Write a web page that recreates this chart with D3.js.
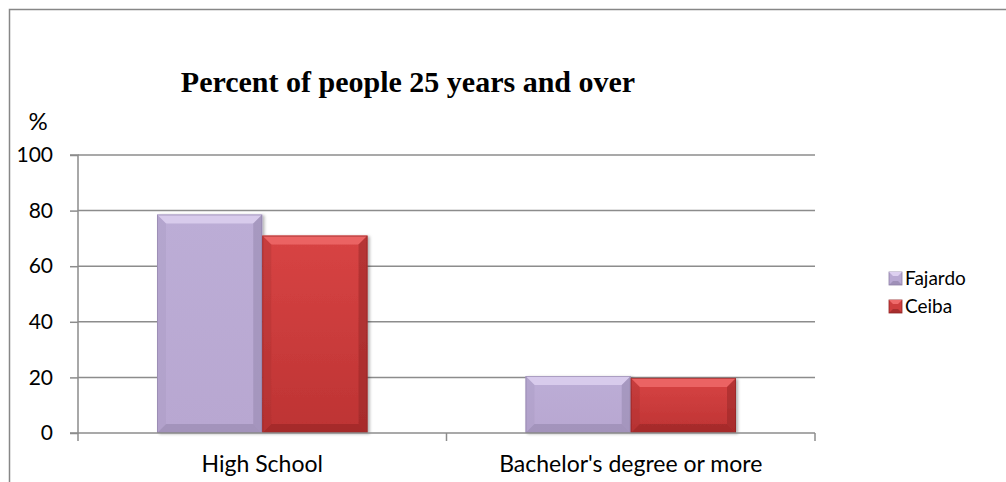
<!DOCTYPE html>
<html><head><meta charset="utf-8">
<script src="https://cdn.jsdelivr.net/npm/d3@7"></script>
<style>body{margin:0;background:#fff;} svg{display:block;}</style>
</head><body>
<svg id="c" width="1006" height="482"></svg>
<script>
const categories = ["High School", "Bachelor's degree or more"];
const seriesNames = ["Fajardo", "Ceiba"];
const fajardo = [78.6, 20.5];
const ceiba = [71.0, 19.8];
const yTicks = [0, 20, 40, 60, 80, 100];
const title = "Percent of people 25 years and over";
const yUnit = "%";

const svg = d3.select("#c");
const W = 1006, H = 482;
const m = {left: 78, right: 815, top: 155, bottom: 433};
const font = "Lato, 'Open Sans', sans-serif";

// defs: gradients
const defs = svg.append("defs");
function grad(id, c1, c2) {
  const g = defs.append("linearGradient").attr("id", id).attr("x1", 0).attr("y1", 0).attr("x2", 0).attr("y2", 1);
  g.append("stop").attr("offset", "0%").attr("stop-color", c1);
  g.append("stop").attr("offset", "100%").attr("stop-color", c2);
}
grad("gF", "#bcadd6", "#b8a7d1");
grad("gC", "#d84444", "#bd3333");
const colors = {Fajardo: {fill: "url(#gF)", base: "#b9a9d3", light: "#ddd0f0", dark: "#8e80a6", side: "#a597bf"},
                Ceiba: {fill: "url(#gC)", base: "#cf3e3e", light: "#ef6a6a", dark: "#8e2424", side: "#a83030"}};
const filt = defs.append("filter").attr("id", "sh").attr("x", "-10%").attr("y", "-10%").attr("width", "130%").attr("height", "130%");
filt.append("feDropShadow").attr("dx", 2).attr("dy", 1).attr("stdDeviation", 1.5).attr("flood-color", "#000").attr("flood-opacity", 0.3);

// outer border
svg.append("path").attr("d", `M9.5,${H} L9.5,9.5 L${W},9.5`).attr("fill", "none").attr("stroke", "#878787").attr("stroke-width", 1.5);

const x0 = d3.scaleBand().domain(categories).range([m.left, m.right]).paddingInner(0).paddingOuter(0);
const y = d3.scaleLinear().domain([0, 100]).range([m.bottom, m.top]);
const groupPad = 79;
const x1 = d3.scaleBand().domain(seriesNames).range([0, x0.bandwidth() - 2 * groupPad]).padding(0);

// gridlines
svg.append("g").selectAll("line").data(yTicks.filter(d => d > 0)).join("line")
  .attr("x1", m.left).attr("x2", m.right).attr("y1", d => y(d)).attr("y2", d => y(d))
  .attr("stroke", "#8c8c8c").attr("stroke-width", 1.5);

// y axis
const yAxis = d3.axisLeft(y).tickValues(yTicks).tickSize(8).tickPadding(17);
const gy = svg.append("g").attr("transform", `translate(${m.left},0)`).call(yAxis);
gy.select(".domain").attr("stroke", "#8c8c8c").attr("stroke-width", 1.5).attr("d", `M-8,${m.top}H0V${m.bottom}H-8`);
gy.selectAll(".tick line").attr("stroke", "#8c8c8c").attr("stroke-width", 1.5);
gy.selectAll(".tick text").attr("font-family", font).attr("font-size", 21).attr("fill", "#000");

// bars
const data = categories.map((c, i) => ({cat: c, vals: [{s: "Fajardo", v: fajardo[i]}, {s: "Ceiba", v: ceiba[i]}]}));
const bars = svg.append("g").selectAll("g").data(data).join("g")
  .attr("transform", d => `translate(${x0(d.cat) + groupPad},0)`);
const bar = bars.selectAll("g").data(d => d.vals).join("g").attr("filter", "url(#sh)");
const bev = 9;
bar.append("rect")
  .attr("x", d => x1(d.s)).attr("y", d => y(d.v)).attr("width", x1.bandwidth()).attr("height", d => y(0) - y(d.v))
  .attr("fill", d => colors[d.s].fill);
bar.append("path").attr("d", d => {
  const xa = x1(d.s), xb = xa + x1.bandwidth(), ya = y(d.v), b = Math.min(bev, (y(0) - y(d.v)) / 2);
  return `M${xa},${ya}L${xb},${ya}L${xb - b},${ya + b}L${xa + b},${ya + b}Z`;
}).attr("fill", d => colors[d.s].light).attr("opacity", 0.85);
bar.append("path").attr("d", d => {
  const xa = x1(d.s), xb = xa + x1.bandwidth(), yb = y(0), b = Math.min(bev, (y(0) - y(d.v)) / 2);
  return `M${xa},${yb}L${xb},${yb}L${xb - b},${yb - b}L${xa + b},${yb - b}Z`;
}).attr("fill", d => colors[d.s].dark).attr("opacity", 0.5);
bar.append("path").attr("d", d => {
  const xa = x1(d.s), ya = y(d.v), yb = y(0), b = Math.min(bev, (y(0) - y(d.v)) / 2);
  return `M${xa},${ya}L${xa + b},${ya + b}L${xa + b},${yb - b}L${xa},${yb}Z`;
}).attr("fill", d => colors[d.s].side).attr("opacity", 0.35);
bar.append("path").attr("d", d => {
  const xb = x1(d.s) + x1.bandwidth(), ya = y(d.v), yb = y(0), b = Math.min(bev, (y(0) - y(d.v)) / 2);
  return `M${xb},${ya}L${xb - b},${ya + b}L${xb - b},${yb - b}L${xb},${yb}Z`;
}).attr("fill", d => colors[d.s].dark).attr("opacity", 0.45);
bar.append("rect")
  .attr("x", d => x1(d.s) + 0.5).attr("y", d => y(d.v) + 0.5).attr("width", x1.bandwidth() - 1).attr("height", d => y(0) - y(d.v) - 1)
  .attr("fill", "none").attr("stroke", d => colors[d.s].dark).attr("stroke-opacity", 0.6).attr("stroke-width", 1);

// x axis
const xAxis = d3.axisBottom(x0).tickSize(0).tickPadding(18);
const gx = svg.append("g").attr("transform", `translate(0,${m.bottom})`).call(xAxis);
gx.select(".domain").attr("stroke", "#8c8c8c").attr("stroke-width", 1.5).attr("d", `M${m.left},0H${m.right}`);
gx.selectAll(".tick text").attr("font-family", font).attr("font-size", 23).attr("fill", "#000").attr("dy", "0.9em");
const bounds = categories.map(c => x0(c)).concat([x0(categories[categories.length - 1]) + x0.bandwidth()]);
gx.append("g").selectAll("line").data(bounds).join("line")
  .attr("x1", d => d).attr("x2", d => d).attr("y1", 0).attr("y2", 8)
  .attr("stroke", "#8c8c8c").attr("stroke-width", 1.5);

// title
svg.append("text").attr("x", 408).attr("y", 92).attr("text-anchor", "middle")
  .attr("font-family", "'Liberation Serif', 'Times New Roman', serif").attr("font-weight", "bold").attr("font-size", 30)
  .text(title);
svg.append("text").attr("x", 38).attr("y", 130).attr("text-anchor", "middle")
  .attr("font-family", font).attr("font-size", 24).text(yUnit);

// legend
const lg = svg.append("g").attr("transform", "translate(889,272)");
const li = lg.selectAll("g").data(seriesNames).join("g").attr("transform", (d, i) => `translate(0,${i * 28})`);
li.append("rect").attr("width", 13).attr("height", 13).attr("fill", d => colors[d].base).attr("stroke", d => colors[d].dark).attr("stroke-width", 0.8);
li.append("path").attr("d", "M0,0L13,0L9,4L4,4Z").attr("fill", d => colors[d].light);
li.append("path").attr("d", "M0,13L13,13L9,9L4,9Z").attr("fill", d => colors[d].dark).attr("opacity", 0.6);
li.append("text").attr("x", 16).attr("y", 6.5).attr("dy", "0.35em")
  .attr("font-family", font).attr("font-size", 19).text(d => d);
</script>
</body></html>
